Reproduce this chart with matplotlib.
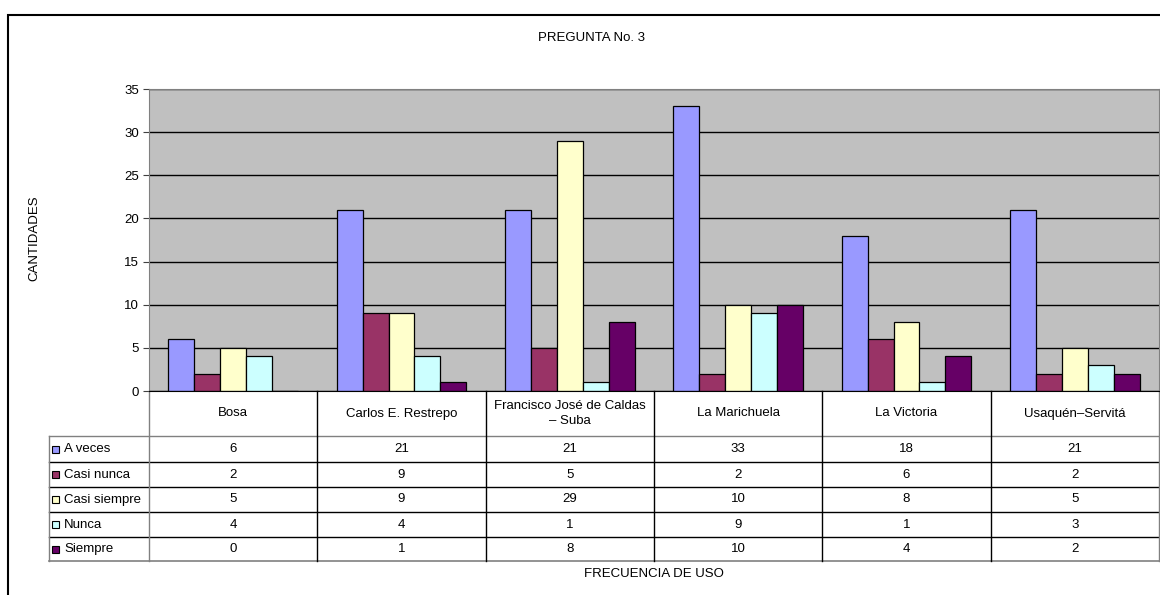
import numpy as np
import matplotlib.pyplot as plt
from matplotlib.patches import Rectangle

plt.rcParams['font.family'] = ['Liberation Sans', 'DejaVu Sans']

# datos
colegios = ['Bosa', 'Carlos E. Restrepo', 'Francisco José de Caldas\n– Suba',
            'La Marichuela', 'La Victoria', 'Usaquén–Servitá']
series = ['A veces', 'Casi nunca', 'Casi siempre', 'Nunca', 'Siempre']
a_veces = [6, 21, 21, 33, 18, 21]
casi_nunca = [2, 9, 5, 2, 6, 2]
casi_siempre = [5, 9, 29, 10, 8, 5]
nunca = [4, 4, 1, 9, 1, 3]
siempre = [0, 1, 8, 10, 4, 2]
valores = [a_veces, casi_nunca, casi_siempre, nunca, siempre]
colores = ['#9999FF', '#993366', '#FFFFCC', '#CCFFFF', '#660066']
yticks = [0, 5, 10, 15, 20, 25, 30, 35]

W, H = 1160, 595
fs = 9.5
fig = plt.figure(figsize=(W / 100, H / 100), dpi=100)

# marco exterior (se sale por la derecha y por abajo)
fig.patches.append(Rectangle((8 / W, -0.2), 1.1, 1.2 - 15 / H, transform=fig.transFigure,
                             fill=False, edgecolor='black', linewidth=1.5))

left, right, top, bottom = 149, 1159, 89, 391
ax = fig.add_axes([left / W, 1 - bottom / H, (right - left) / W, (bottom - top) / H])
ax.set_facecolor('#C0C0C0')

n = len(colegios)
x = np.arange(n)
bw = 1 / 6.5
for k, (nombre, vals, c) in enumerate(zip(series, valores, colores)):
    ax.bar(x + (k - 2) * bw, vals, width=bw, color=c, edgecolor='black',
           linewidth=0.9, zorder=3, label=nombre)

ax.set_xlim(-0.5, n - 0.5)
ax.set_ylim(0, 35)
ax.set_yticks(yticks)
ax.yaxis.grid(True, color='black', linewidth=1, zorder=1)
ax.set_xticks([])
ax.tick_params(axis='y', labelsize=fs, length=4, color='#404040', pad=3)
for s in ['top', 'right', 'left']:
    ax.spines[s].set_color('#808080')
ax.spines['bottom'].set_color('black')
ax.spines['bottom'].set_zorder(4)

# tabla de datos
px = bottom - top
def fy(ypix):
    return (bottom - ypix) / px

tr = ax.get_xaxis_transform()
filas = [436, 462, 487, 512, 537, 561]
x_leg = -0.5 - 100 / ((right - left) / n)
kw = dict(transform=tr, clip_on=False, color='black', linewidth=1)

# lineas horizontales
for yp in filas[1:-1]:
    ax.plot([x_leg, n - 0.5], [fy(yp)] * 2, **kw)
ax.plot([x_leg, n - 0.5], [fy(filas[0])] * 2, transform=tr, clip_on=False,
        color='#808080', linewidth=1)
ax.plot([x_leg, n - 0.5], [fy(filas[-1])] * 2, transform=tr, clip_on=False,
        color='#808080', linewidth=1.2)
# lineas verticales
for i in range(n + 1):
    xi = i - 0.5
    col = '#808080' if i in (0, n) else 'black'
    ax.plot([xi, xi], [0, fy(filas[-1])], transform=tr, clip_on=False,
            color=col, linewidth=1)
ax.plot([x_leg, x_leg], [fy(filas[0]), fy(filas[-1])], transform=tr,
        clip_on=False, color='#808080', linewidth=1)

# encabezados
for i, nom in enumerate(colegios):
    ax.text(i, fy((bottom + filas[0]) / 2), nom, transform=tr, ha='center',
            va='center', fontsize=fs, linespacing=1.3)

# filas de valores
for r, (nombre, vals, c) in enumerate(zip(series, valores, colores)):
    yc = fy((filas[r] + filas[r + 1]) / 2)
    for i, v in enumerate(vals):
        ax.text(i, yc, str(v), transform=tr, ha='center', va='center', fontsize=fs)
    fig.patches.append(Rectangle((52 / W, 1 - ((filas[r] + filas[r + 1]) / 2 + 3.5) / H),
                                 7 / W, 7 / H, transform=fig.transFigure,
                                 facecolor=c, edgecolor='black', linewidth=0.8))
    fig.text(64 / W, 1 - (filas[r] + filas[r + 1]) / 2 / H, nombre, ha='left',
             va='center', fontsize=fs)

fig.text(591 / W, 1 - 38 / H, 'PREGUNTA No. 3', ha='center', va='center', fontsize=fs)
fig.text((left + right) / 2 / W, 1 - 574 / H, 'FRECUENCIA DE USO', ha='center',
         va='center', fontsize=fs)
fig.text(34 / W, 1 - 238 / H, 'CANTIDADES', ha='center', va='center',
         rotation=90, fontsize=fs)

fig.savefig('out.png', dpi=100)
